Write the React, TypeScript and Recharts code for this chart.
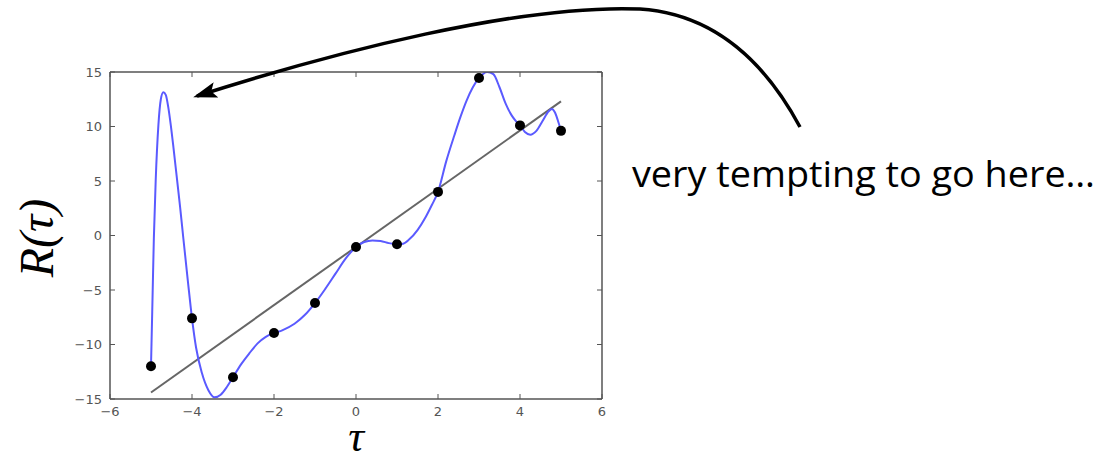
import { ComposedChart, Line, Scatter, XAxis, YAxis } from 'recharts';

// observed samples
const tauObs = [-5, -4, -3, -2, -1, 0, 1, 2, 3, 4, 5];
const rObs = [-12.0, -7.6, -13.0, -8.95, -6.2, -1.05, -0.8, 4.0, 14.45, 10.1, 9.6];

// blue interpolating curve
const tauFit = [
  -5.0, -4.97, -4.95, -4.93, -4.885, -4.82, -4.76, -4.7, -4.64, -4.58, -4.52, -4.45, -4.37, -4.29, -4.21, -4.1,
  -4.0, -3.9, -3.76, -3.6, -3.45, -3.3, -3.15, -3.0, -2.8, -2.6, -2.4, -2.2, -2.0, -1.8, -1.5, -1.25,
  -1.0, -0.75, -0.5, -0.25, 0, 0.2, 0.4, 0.6, 0.8, 1.0, 1.15, 1.3, 1.5, 1.7, 1.85, 2.0,
  2.2, 2.4, 2.55, 2.7, 2.85, 3.0, 3.2, 3.35, 3.5, 3.65, 3.8, 3.9, 4.0, 4.12, 4.25, 4.4,
  4.55, 4.7, 4.78, 4.85, 4.92, 5.0,
];
const rFit = [
  -12.0, -7.0, -3.5, -0.2, 5.1, 10.1, 12.5, 13.15, 12.9, 11.8, 10.2, 8.0, 5.3, 2.6, -0.3, -4.2,
  -7.6, -10.3, -12.6, -14.2, -14.85, -14.6, -13.9, -13.0, -11.8, -10.8, -9.9, -9.3, -8.95, -8.7, -8.1, -7.3,
  -6.2, -4.9, -3.5, -2.1, -1.05, -0.6, -0.45, -0.5, -0.7, -0.8, -0.75, -0.35, 0.5, 1.7, 2.8, 4.0,
  6.8, 9.2, 10.9, 12.4, 13.6, 14.45, 15.0, 14.8, 13.6, 12.1, 11.0, 10.5, 10.1, 9.5, 9.25, 9.6,
  10.5, 11.4, 11.6, 11.3, 10.6, 9.6,
];

// gray least-squares line
const tauLin = [-5, 5];
const rLin = [-14.4, 12.3];

const xTicks = [-6, -4, -2, 0, 2, 4, 6];
const yTicks = [-15, -10, -5, 0, 5, 10, 15];

const obs = tauObs.map((t, i) => ({ t, r: rObs[i] }));
const fit = tauFit.map((t, i) => ({ t, r: rFit[i] }));
const lin = tauLin.map((t, i) => ({ t, r: rLin[i] }));

const fmt = (v: number) => (v < 0 ? '\u2212' + Math.abs(v) : String(v));
const tickStyle = { fontSize: 13, fill: '#555', fontFamily: 'DejaVu Sans' };
const axisStroke = { stroke: '#555', strokeWidth: 1.5 };

export default function App() {
  return (
    <div style={{ position: 'relative', width: 1112, height: 460, background: '#fff' }}>
      <style>{'body{margin:0}'}</style>
      <ComposedChart width={1112} height={460} margin={{ top: 71, right: 509, bottom: 31, left: 70 }}>
        <XAxis dataKey="t" type="number" domain={[-6, 6]} ticks={xTicks} allowDataOverflow
          height={30} tickSize={-5} tickMargin={13} tickFormatter={fmt} tick={tickStyle}
          axisLine={axisStroke} tickLine={{ stroke: '#555' }} />
        <XAxis xAxisId="top" orientation="top" dataKey="t" type="number" domain={[-6, 6]} ticks={xTicks}
          allowDataOverflow height={1} tickSize={-5} tickMargin={0} tickFormatter={() => ''}
          axisLine={axisStroke} tickLine={{ stroke: '#555' }} />
        <YAxis type="number" domain={[-15, 15]} ticks={yTicks} allowDataOverflow width={40}
          tickSize={-5} tickMargin={13} tickFormatter={fmt} tick={tickStyle}
          axisLine={axisStroke} tickLine={{ stroke: '#555' }} />
        <YAxis yAxisId="right" orientation="right" type="number" domain={[-15, 15]} ticks={yTicks}
          allowDataOverflow width={1} tickSize={-5} tickMargin={0} tickFormatter={() => ''}
          axisLine={axisStroke} tickLine={{ stroke: '#555' }} />
        <Line data={lin} dataKey="r" type="linear" stroke="#666" strokeWidth={2} dot={false} isAnimationActive={false} />
        <Line data={fit} dataKey="r" type="monotone" stroke="#5a5aff" strokeWidth={2} dot={false} isAnimationActive={false} />
        <Scatter data={obs} dataKey="r" fill="#000" isAnimationActive={false}
          shape={(p: any) => <circle cx={p.cx} cy={p.cy} r={5} fill="#000" />} />
      </ComposedChart>

      <svg width={1112} height={460} style={{ position: 'absolute', left: 0, top: 0, pointerEvents: 'none' }}>
        <defs>
          <marker id="head" markerWidth="24" markerHeight="16" refX="20" refY="8" orient="auto" markerUnits="userSpaceOnUse"
            viewBox="0 0 24 16">
            <path d="M0,0 L24,8 L0,16 L5,8 z" fill="#000" />
          </marker>
        </defs>
        <path d="M 800 127 C 765 62, 715 14, 640 9 C 520 4, 335 52, 197 96" fill="none" stroke="#000" strokeWidth={3.5}
          markerEnd="url(#head)" />
        <text x={632} y={187} fontFamily="Open Sans" fontSize={36} fill="#000" textLength={463} lengthAdjust="spacingAndGlyphs">
          very tempting to go here…
        </text>
        <text x={356} y={451} textAnchor="middle" fontFamily="Liberation Serif" fontStyle="italic" fontSize={44} fill="#000">τ</text>
        <text x={53} y={238} textAnchor="middle" fontFamily="Liberation Serif" fontStyle="italic" fontSize={48} fill="#000"
          transform="rotate(-90 53 238)">R(τ)</text>
      </svg>
    </div>
  );
}
